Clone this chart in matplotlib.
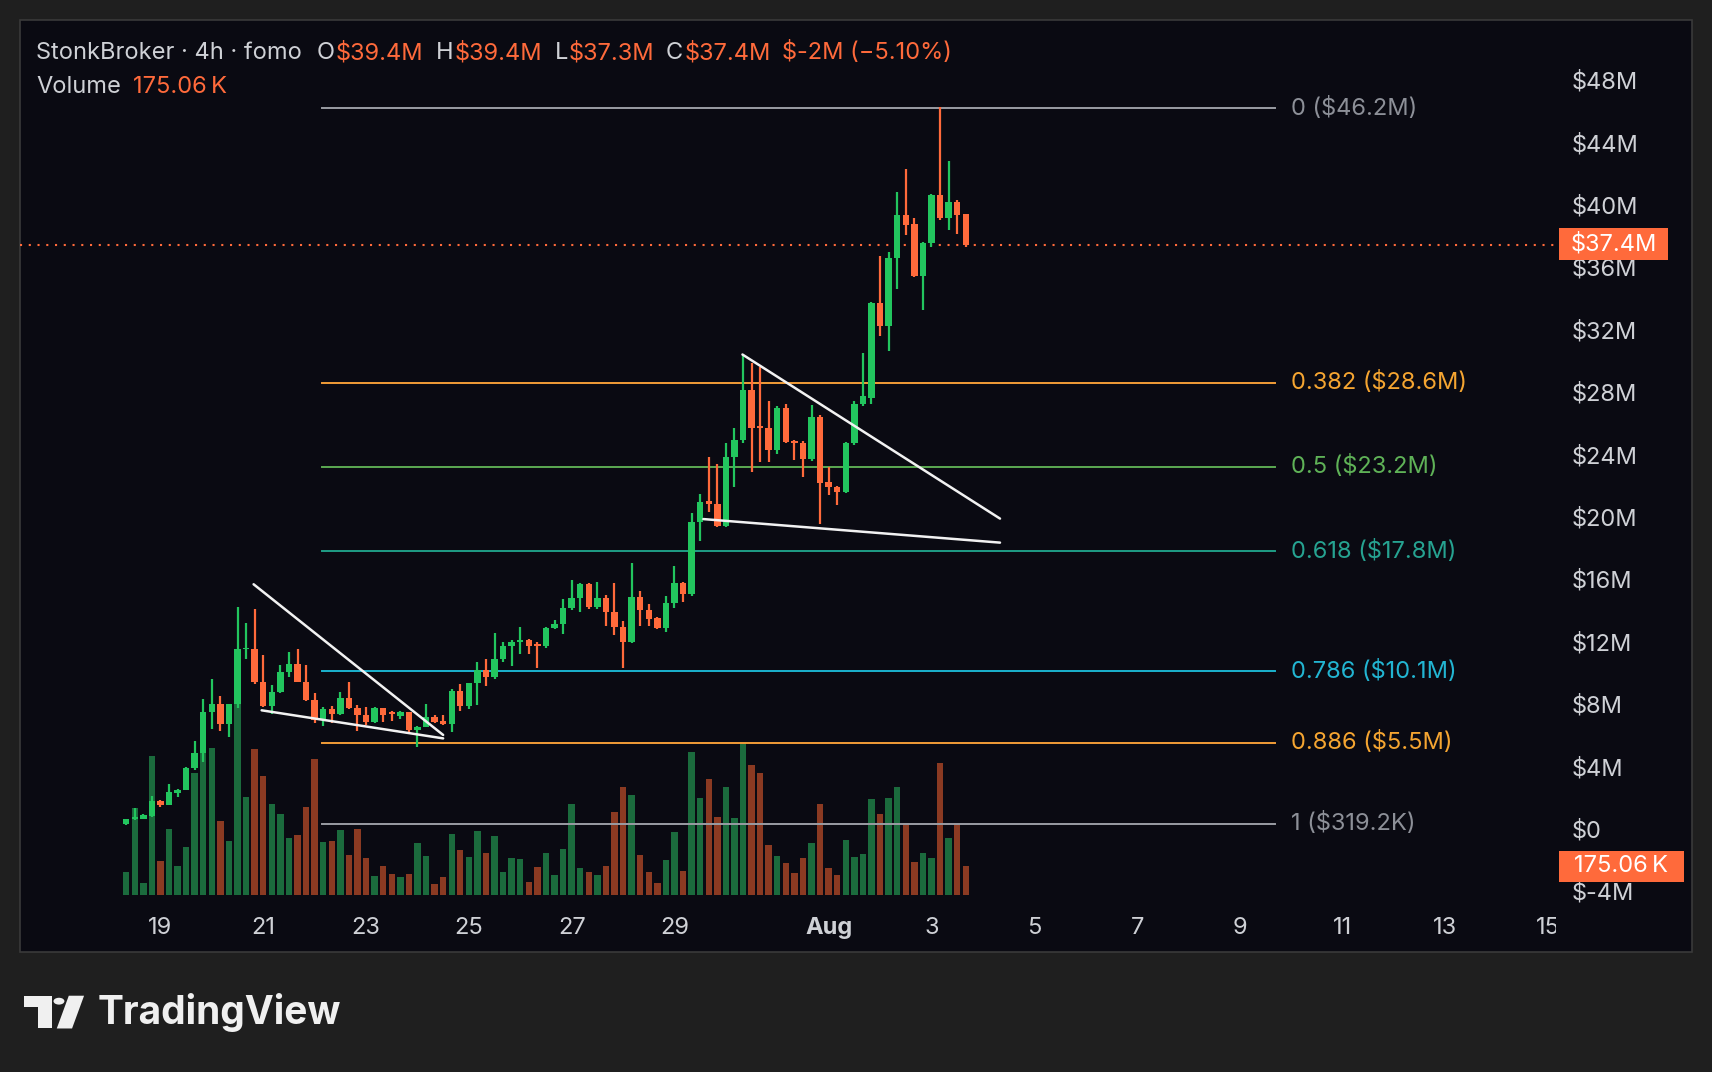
import numpy as np
import pandas as pd
import matplotlib
matplotlib.use('Agg')
import matplotlib.pyplot as plt
import matplotlib.dates as mdates
from matplotlib.patches import Rectangle, Polygon, Circle
from matplotlib.transforms import Bbox, TransformedBbox

plt.rcParams['font.family'] = ['Inter', 'DejaVu Sans']

# 4h candles, prices in $M
candle_start = '2024-07-18 08:00'
opens = [0.28, 0.60, 0.65, 0.82, 1.78, 1.52, 2.30, 2.48, 3.88, 4.83,
         7.46, 7.97, 6.71, 7.97, 11.50, 11.55, 9.42, 7.88, 8.78, 10.03,
         10.56, 9.42, 8.25, 6.97, 7.65, 7.35, 8.40, 7.72, 7.30, 6.86,
         7.72, 7.42, 7.20, 7.46, 6.33, 6.54, 7.14, 6.90, 6.69, 8.85,
         7.87, 9.32, 10.17, 9.74, 10.86, 11.73, 12.00, 12.10, 11.85, 11.73,
         12.85, 13.15, 14.13, 14.77, 15.69, 14.19, 14.77, 13.91, 12.95, 11.99,
         14.83, 14.02, 13.50, 12.88, 14.45, 15.73, 15.02, 19.68, 21.00, 20.80,
         19.40, 23.85, 24.92, 28.12, 25.80, 25.67, 24.28, 27.00, 24.83, 24.70,
         23.67, 26.39, 22.20, 21.90, 21.58, 24.73, 27.24, 27.64, 33.68, 32.22,
         36.61, 39.33, 38.76, 35.45, 37.53, 40.62, 39.12, 40.20, 39.40]
highs = [0.65, 1.35, 0.92, 2.10, 1.82, 2.87, 2.52, 3.95, 5.60, 8.31,
         9.58, 8.53, 8.00, 14.19, 13.17, 14.10, 11.13, 9.20, 10.47, 11.35,
         11.50, 10.50, 8.70, 7.80, 7.85, 8.75, 9.38, 7.90, 7.80, 7.82,
         7.75, 7.55, 7.55, 7.50, 6.60, 8.00, 7.30, 7.30, 8.95, 9.28,
         9.35, 10.67, 10.87, 12.52, 11.99, 12.10, 12.90, 12.15, 11.95, 12.90,
         13.40, 14.70, 15.94, 15.75, 15.72, 15.83, 15.00, 15.76, 13.30, 17.05,
         15.25, 14.38, 13.55, 14.94, 16.84, 15.80, 20.22, 21.44, 23.85, 23.38,
         24.70, 25.67, 30.40, 29.83, 29.60, 27.40, 27.10, 27.20, 24.90, 24.85,
         27.18, 26.50, 23.22, 22.00, 24.80, 27.40, 30.47, 33.75, 36.70, 36.97,
         40.84, 42.29, 39.12, 37.60, 40.70, 46.24, 42.80, 40.30, 39.40]
lows = [0.25, 0.55, 0.62, 0.78, 1.42, 1.50, 2.05, 2.45, 3.75, 4.30,
        6.37, 6.24, 5.90, 7.72, 10.86, 9.30, 7.80, 7.35, 8.70, 9.70,
        9.40, 8.20, 6.75, 6.60, 6.75, 7.30, 7.70, 6.28, 6.62, 6.80,
        6.86, 6.90, 7.05, 6.20, 5.26, 6.50, 6.80, 6.65, 6.22, 7.55,
        7.70, 7.90, 9.17, 9.60, 10.70, 10.46, 11.17, 11.20, 10.28, 11.60,
        12.80, 12.50, 14.00, 13.90, 14.10, 14.10, 12.97, 12.42, 10.28, 11.90,
        12.99, 13.00, 12.80, 12.59, 14.17, 14.55, 14.95, 18.46, 20.32, 19.35,
        19.35, 21.88, 24.74, 22.88, 23.50, 23.50, 24.00, 24.70, 23.63, 22.55,
        23.60, 19.53, 21.40, 20.74, 21.50, 24.60, 27.10, 27.24, 31.56, 30.62,
        34.59, 38.05, 35.40, 33.25, 37.30, 39.00, 38.37, 38.12, 37.30]
closes = [0.60, 0.72, 0.88, 1.79, 1.52, 2.33, 2.48, 3.90, 4.83, 7.46,
          7.97, 6.71, 7.97, 11.50, 11.60, 9.42, 7.88, 8.78, 10.03, 10.56,
          9.42, 8.25, 6.97, 7.65, 7.35, 8.40, 7.72, 7.30, 6.86, 7.72,
          7.30, 7.38, 7.46, 6.33, 6.55, 7.14, 6.86, 6.69, 8.85, 7.87,
          9.32, 10.17, 9.74, 10.86, 11.73, 12.00, 12.10, 11.73, 11.73, 12.85,
          13.15, 14.13, 14.77, 15.69, 14.19, 14.77, 13.91, 12.91, 11.99, 14.83,
          14.02, 13.45, 12.88, 14.45, 15.73, 15.02, 19.68, 20.96, 20.80, 19.40,
          23.85, 24.92, 28.12, 25.67, 25.70, 24.28, 27.00, 24.80, 24.70, 23.67,
          26.39, 22.19, 21.89, 21.58, 24.73, 27.24, 27.76, 33.68, 32.22, 36.61,
          39.33, 38.73, 35.45, 37.53, 40.62, 39.12, 40.20, 39.34, 37.40]
volumes_k = [137, 527, 70, 838, 205, 398, 175, 289, 738, 965,
             890, 446, 326, 1186, 591, 880, 718, 549, 492, 346,
             362, 531, 820, 318, 326, 392, 241, 398, 223, 115,
             175, 127, 111, 127, 314, 235, 66, 111, 368, 271,
             229, 386, 253, 356, 139, 223, 217, 78, 171, 253,
             121, 277, 549, 163, 139, 121, 175, 500, 651, 603,
             241, 139, 72, 211, 380, 145, 862, 585, 699, 470,
             651, 464, 915, 784, 736, 302, 235, 193, 133, 223,
             314, 549, 163, 121, 332, 229, 247, 579, 488, 585,
             651, 434, 199, 253, 223, 796, 344, 428, 175.06]

fib_levels = ['0', '0.382', '0.5', '0.618', '0.786', '0.886', '1']
fib_prices = [46.2, 28.6, 23.2, 17.8, 10.1, 5.5, 0.3192]
fib_values = ['$46.2M', '$28.6M', '$23.2M', '$17.8M', '$10.1M', '$5.5M', '$319.2K']
fib_line_colors = ['#9a9ca3', '#f29d38', '#5caa52', '#1f9e86', '#1bb3cf', '#f29d38', '#9a9ca3']
fib_text_colors = ['#8d9098', '#f5a531', '#5fb257', '#26a391', '#22b5d2', '#f5a531', '#8d9098']
fib_start, fib_end, fib_label_at = '2024-07-22 03:20', '2024-08-09 16:20', '2024-08-10 00:00'

# hand-drawn wedges: (time, price) endpoints
small_upper = (['2024-07-20 19:30', '2024-07-24 12:00'], [15.67, 6.01])
small_lower = (['2024-07-20 23:15', '2024-07-24 12:00'], [7.59, 5.79])
big_upper = (['2024-07-30 07:45', '2024-08-04 08:00'], [30.4, 19.88])
big_lower = (['2024-07-29 13:30', '2024-08-04 08:00'], [19.85, 18.34])

price_ticks = [-4, 0, 4, 8, 12, 16, 20, 24, 28, 32, 36, 40, 44, 48]
date_ticks = ['2024-07-19', '2024-07-21', '2024-07-23', '2024-07-25', '2024-07-27', '2024-07-29',
              '2024-08-01', '2024-08-03', '2024-08-05', '2024-08-07', '2024-08-09', '2024-08-11',
              '2024-08-13', '2024-08-15']
date_labels = ['19', '21', '23', '25', '27', '29', 'Aug', '3', '5', '7', '9', '11', '13', '15']

last_price = 37.4
last_volume = '175.06\u2009K'

GREEN, ORANGE = '#22c55e', '#ff6a3b'
VGREEN, VORANGE = '#1b6b3d', '#8b3a22'
TXT = '#cfd1d6'
BG_OUT, BG_PANEL = '#1f1f1f', '#0a0a12'
FS = 17

W, H = 1712, 1072


def fx(px):
    return px / W


def fy(py):
    return 1 - py / H


fig = plt.figure(figsize=(W / 100, H / 100), dpi=100, facecolor=BG_OUT)
fig.patches.append(Rectangle((fx(19.6), fy(952)), fx(1692) - fx(19.6), fy(19.6) - fy(952),
                             transform=fig.transFigure, facecolor=BG_PANEL,
                             edgecolor='#3a3a3a', lw=1.2, zorder=0))

rect = [fx(19.6), fy(897), fx(1556) - fx(19.6), fy(19.6) - fy(897)]
axv = fig.add_axes(rect)
ax = fig.add_axes(rect)
ax.set_zorder(2)
axv.set_zorder(1)
for a in (ax, axv):
    a.patch.set_visible(False)
    for s in a.spines.values():
        s.set_visible(False)

t = pd.date_range(candle_start, periods=len(opens), freq='4h')
tn = mdates.date2num(t)
o, hi, lo, c = map(np.array, (opens, highs, lows, closes))
up = c >= o
col = np.where(up, GREEN, ORANGE)

# volume pane
axv.bar(tn, volumes_k, width=0.125, color=np.where(up, VGREEN, VORANGE), linewidth=0)
axv.set_ylim(-12, 5285)
axv.set_yticks([])
axv.set_xticks([])

# candles
ax.vlines(tn, lo, hi, colors=col, lw=1.6, zorder=4)
body = np.maximum(np.abs(c - o), 0.08)
ax.bar(tn, body, bottom=np.minimum(o, c), width=0.125, color=col, linewidth=0, zorder=5)

# fib retracement
f0, f1, fl = mdates.date2num(pd.to_datetime([fib_start, fib_end, fib_label_at]))
for lev, pr, val, lc, tc in zip(fib_levels, fib_prices, fib_values, fib_line_colors, fib_text_colors):
    ax.plot([f0, f1], [pr, pr], color=lc, lw=1.4, zorder=3)
    ax.text(fl, pr, f'{lev} ({val})', color=tc, fontsize=FS, va='center', ha='left', zorder=6)

for xs, ys in (small_upper, small_lower, big_upper, big_lower):
    ax.plot(mdates.date2num(pd.to_datetime(xs)), ys, color='#f2f2f2', lw=1.8,
            solid_capstyle='round', zorder=6)

ax.axhline(last_price, color=ORANGE, lw=1.5, ls=(0, (1, 3.2)), zorder=2)

x0 = mdates.date2num(pd.Timestamp('2024-07-01')) - 1
ax.set_xlim(x0 + 16.26, x0 + 46.15)
ax.set_ylim(-4.378, 51.87)
axv.set_xlim(ax.get_xlim())

ax.yaxis.tick_right()
ax.set_yticks(price_ticks)
ax.set_yticklabels([f'${v}M' if v != 0 else '$0' for v in price_ticks])
ax.tick_params(axis='y', length=0, pad=11.5, labelsize=FS, labelcolor=TXT)

# date labels drawn as texts so the last one can be cut at the pane edge
clip = TransformedBbox(Bbox([[0, 0], [fx(1556), 1]]), fig.transFigure)
ax.set_xticks([])
for d, lab in zip(mdates.date2num(pd.to_datetime(date_ticks)), date_labels):
    tx = ax.text(d, -0.035, lab, transform=ax.get_xaxis_transform(), color=TXT, fontsize=FS,
                 ha='center', va='center', fontweight='bold' if lab == 'Aug' else 'normal')
    tx.set_clip_path(None)
    tx.set_clip_on(True)
    tx.set_clip_box(clip)

# price / volume tags on the scale
fig.patches.append(Rectangle((fx(1559), fy(260)), fx(1668) - fx(1559), fy(228) - fy(260),
                             transform=fig.transFigure, facecolor=ORANGE, lw=0, zorder=5))
fig.text(fx(1613.5), fy(244), f'${last_price}M', color='white', fontsize=FS,
         ha='center', va='center', zorder=6)
fig.patches.append(Rectangle((fx(1559), fy(882)), fx(1684) - fx(1559), fy(850.5) - fy(882),
                             transform=fig.transFigure, facecolor=ORANGE, lw=0, zorder=5))
fig.text(fx(1621.5), fy(866), last_volume, color='white', fontsize=FS,
         ha='center', va='center', zorder=6)

# header legend
renderer = fig.canvas.get_renderer()


def chain(x, y, parts):
    for s, colr in parts:
        tt = fig.text(fx(x), fy(y), s, color=colr, fontsize=FS, va='center', ha='left')
        x = tt.get_window_extent(renderer).x1 + 1


chain(36, 53, [('StonkBroker · 4h · fomo', TXT)])
chain(316.6, 53, [('O', TXT), ('$39.4M', ORANGE)])
chain(435.6, 53, [('H', TXT), ('$39.4M', ORANGE)])
chain(554.6, 53, [('L', TXT), ('$37.3M', ORANGE)])
chain(666, 53, [('C', TXT), ('$37.4M', ORANGE)])
chain(781.7, 53, [('$-2M (\u22125.10%)', ORANGE)])
chain(36, 87, [('Volume', TXT)])
chain(133.2, 87, [('175.06\u2009K', ORANGE)])

# TradingView mark + wordmark
k = 1.0918
logo = '#f0f0f0'
fig.patches.append(Polygon([(fx(22 * k), fy(912 * k)), (fx(48 * k), fy(912 * k)), (fx(48 * k), fy(942 * k)),
                            (fx(35 * k), fy(942 * k)), (fx(35 * k), fy(922 * k)), (fx(22 * k), fy(922 * k))],
                           closed=True, transform=fig.transFigure, facecolor=logo, lw=0))
fig.patches.append(Circle((fx(54 * k), fy(917 * k)), fx(5 * k), transform=fig.transFigure,
                          facecolor=logo, lw=0))
fig.patches.append(Polygon([(fx(63 * k), fy(912 * k)), (fx(77 * k), fy(912 * k)), (fx(66 * k), fy(942 * k)),
                            (fx(52 * k), fy(942 * k))],
                           closed=True, transform=fig.transFigure, facecolor=logo, lw=0))
fig.text(fx(98), fy(1013), 'TradingView', color=logo, fontsize=28, fontweight='bold',
         ha='left', va='center')

fig.savefig('out.png', dpi=100, facecolor=fig.get_facecolor())
